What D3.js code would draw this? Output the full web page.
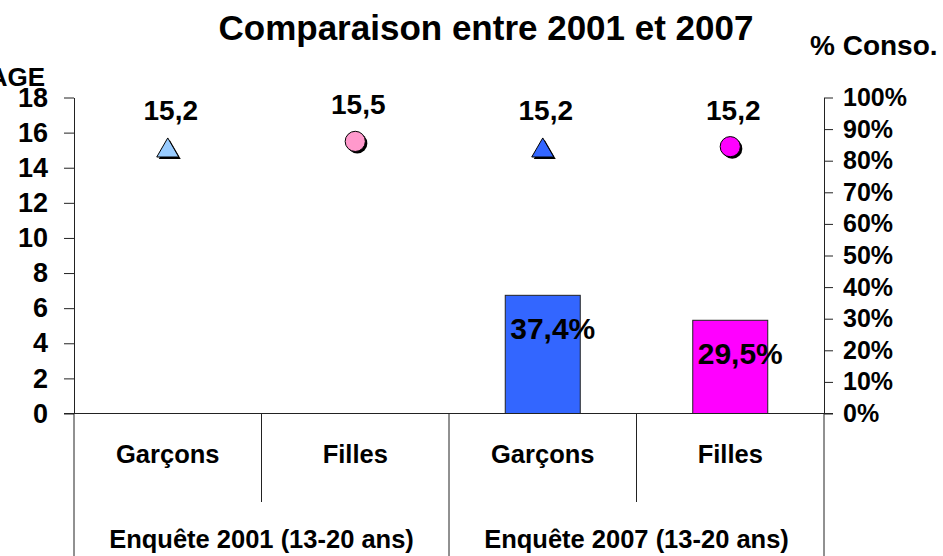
<!DOCTYPE html>
<html>
  <head>
    <meta charset="utf-8">
    <title>Comparaison entre 2001 et 2007</title>
    <script src="https://cdnjs.cloudflare.com/ajax/libs/d3/7.8.5/d3.min.js"></script>
    <style>
      body { margin: 0; background: #fff; }
      text { font-family: "Liberation Sans", Arial, sans-serif; font-weight: bold; fill: #000; }
    </style>
  </head>
  <body>
    <script>
      // data
      var groups = ['Enquête 2001 (13-20 ans)', 'Enquête 2007 (13-20 ans)'];
      var categories = ['Garçons', 'Filles', 'Garçons', 'Filles'];
      var ages = [15.2, 15.5, 15.2, 15.2];
      var conso = [null, null, 37.4, 29.5];
      var ageTicks = [0, 2, 4, 6, 8, 10, 12, 14, 16, 18];
      var pctTicks = [0, 10, 20, 30, 40, 50, 60, 70, 80, 90, 100];
      var shapes = ['triangle', 'circle', 'triangle', 'circle'];
      var markerColors = ['#99ccff', '#ff99cc', '#3366ff', '#ff00ff'];
      var barColors = [null, null, '#3366ff', '#ff00ff'];

      var W = 943, H = 556;
      var x0 = 74, x1 = 824, yTop = 97.5, yBase = 413.5;

      var svg = d3.select('body').append('svg')
        .attr('width', W)
        .attr('height', H);

      var x = d3.scaleBand().domain(d3.range(categories.length)).range([x0, x1]);
      var yAge = d3.scaleLinear().domain([0, 18]).range([yBase, yTop]);
      var yPct = d3.scaleLinear().domain([0, 100]).range([yBase, yTop]);

      var comma = function(v, f) { return d3.format(f)(v).replace('.', ','); };

      // title
      svg.append('text')
        .attr('x', 486).attr('y', 40)
        .attr('text-anchor', 'middle')
        .style('font-size', '35px')
        .text('Comparaison entre 2001 et 2007');

      svg.append('text')
        .attr('x', 45).attr('y', 86)
        .attr('text-anchor', 'end')
        .style('font-size', '26px')
        .text('AGE');

      svg.append('text')
        .attr('x', 810).attr('y', 55)
        .style('font-size', '28px')
        .text('% Conso.');

      var barData = conso.map(function(v, i) { return {v: v, i: i}; })
        .filter(function(d) { return d.v !== null; });

      // bars (right axis)
      svg.selectAll('rect.bar')
        .data(barData)
        .enter().append('rect')
          .attr('class', 'bar')
          .attr('x', function(d) { return x(d.i) + x.bandwidth() * 0.3; })
          .attr('width', x.bandwidth() * 0.4)
          .attr('y', function(d) { return yPct(d.v); })
          .attr('height', function(d) { return yBase - yPct(d.v); })
          .attr('fill', function(d) { return barColors[d.i]; })
          .attr('stroke', '#222')
          .attr('stroke-width', 1);

      svg.selectAll('text.barlabel')
        .data(barData)
        .enter().append('text')
          .attr('class', 'barlabel')
          .attr('x', function(d) { return x(d.i) + x.bandwidth() / 2 + 10; })
          .attr('y', function(d) { return yPct(d.v) + 44; })
          .attr('text-anchor', 'middle')
          .style('font-size', '30px')
          .text(function(d) { return comma(d.v, '.1f') + '%'; });

      // left axis
      var gL = svg.append('g')
        .attr('transform', 'translate(' + x0 + ',0)')
        .call(d3.axisLeft(yAge).tickValues(ageTicks).tickSize(10).tickSizeOuter(0).tickPadding(16));
      gL.selectAll('text').style('font-size', '27px').style('font-family', null);

      // right axis
      var gR = svg.append('g')
        .attr('transform', 'translate(' + x1 + ',0)')
        .call(d3.axisRight(yPct).tickValues(pctTicks).tickSize(9).tickSizeOuter(0).tickPadding(10)
          .tickFormat(function(d) { return d + '%'; }));
      gR.selectAll('text').style('font-size', '25px').style('font-family', null);

      svg.selectAll('.domain, .tick line').attr('stroke', '#222');

      // horizontal axis line
      svg.append('line')
        .attr('x1', x0 - 10).attr('x2', x1 + 9)
        .attr('y1', yBase).attr('y2', yBase)
        .attr('stroke', '#222');

      // category dividers
      var bounds = d3.range(categories.length + 1).map(function(i) { return x0 + i * x.step(); });
      svg.selectAll('line.div')
        .data(bounds)
        .enter().append('line')
          .attr('class', 'div')
          .attr('x1', function(d) { return d; }).attr('x2', function(d) { return d; })
          .attr('y1', yBase)
          .attr('y2', function(d, i) { return i % 2 === 0 ? H : 502; })
          .attr('stroke', '#222');

      svg.selectAll('text.cat')
        .data(categories)
        .enter().append('text')
          .attr('class', 'cat')
          .attr('x', function(d, i) { return x(i) + x.bandwidth() / 2; })
          .attr('y', 463)
          .attr('text-anchor', 'middle')
          .style('font-size', '25.5px')
          .text(function(d) { return d; });

      svg.selectAll('text.grp')
        .data(groups)
        .enter().append('text')
          .attr('class', 'grp')
          .attr('x', function(d, i) { return x0 + (i * 2 + 1) * x.step(); })
          .attr('y', 548)
          .attr('text-anchor', 'middle')
          .style('font-size', '25.5px')
          .text(function(d) { return d; });

      // age markers with shadow
      var sym = function(s) {
        return d3.symbol().type(s === 'triangle' ? d3.symbolTriangle : d3.symbolCircle)
          .size(s === 'triangle' ? 210 : 320)();
      };
      var pts = svg.selectAll('g.pt')
        .data(ages)
        .enter().append('g')
          .attr('class', 'pt')
          .attr('transform', function(d, i) {
            var dy = shapes[i] === 'triangle' ? 4 : 0;
            return 'translate(' + (x(i) + x.bandwidth() / 2) + ',' + (yAge(d) + dy) + ')';
          });
      pts.append('path')
        .attr('d', function(d, i) { return sym(shapes[i]); })
        .attr('transform', 'translate(2,2)')
        .attr('fill', '#000');
      pts.append('path')
        .attr('d', function(d, i) { return sym(shapes[i]); })
        .attr('fill', function(d, i) { return markerColors[i]; })
        .attr('stroke', '#000')
        .attr('stroke-width', 1);

      svg.selectAll('text.agelabel')
        .data(ages)
        .enter().append('text')
          .attr('class', 'agelabel')
          .attr('x', function(d, i) { return x(i) + x.bandwidth() / 2 + 3; })
          .attr('y', function(d) { return yAge(d) - 27; })
          .attr('text-anchor', 'middle')
          .style('font-size', '28px')
          .text(function(d) { return comma(d, '.1f'); });
    </script>
  </body>
</html>
